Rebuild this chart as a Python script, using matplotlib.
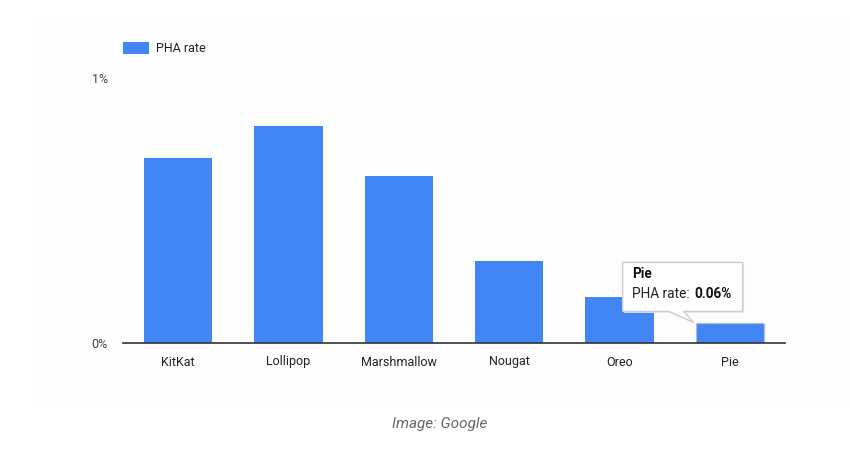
import matplotlib
matplotlib.use("Agg")
import matplotlib.pyplot as plt
from matplotlib.patches import Rectangle, Polygon
from matplotlib.transforms import Affine2D

categories = ["KitKat", "Lollipop", "Marshmallow", "Nougat", "Oreo", "Pie"]
pha_rate = [0.70, 0.82, 0.63, 0.31, 0.175, 0.074]
series_name = "PHA rate"
y_ticks = [0, 1]
y_tick_labels = ["0%", "1%"]
tooltip_title = "Pie"
tooltip_value = "0.06%"
caption = "Image: Google"

plt.rcParams["font.family"] = ["Roboto", "DejaVu Sans"]

W, H = 850, 453
fig = plt.figure(figsize=(W / 100, H / 100), dpi=100)
fig.patch.set_facecolor("white")

# faint background panel
fig.patches.append(Rectangle((32 / W, 1 - 402 / H), (W - 32) / W, (402 - 16) / H,
                             transform=fig.transFigure, facecolor="#fdfdfd",
                             edgecolor="none", zorder=-1))

ax = fig.add_axes([123 / W, 1 - 343 / H, (785 - 123) / W, (343 - 78) / H])
ax.set_zorder(1)
ax.set_facecolor("none")
x = list(range(len(categories)))
bars = ax.bar(x, pha_rate, width=0.62, color="#4285f4", label=series_name, zorder=2)
# hovered bar outline
bars[-1].set_edgecolor("#bbbbbb")
bars[-1].set_linestyle((0, (1, 1)))
bars[-1].set_linewidth(1.0)

ax.set_xlim(-0.5, len(categories) - 0.5)
ax.set_ylim(0, 1)
ax.set_xticks(x)
ax.set_xticklabels(categories, fontsize=9, color="#222222")
ax.set_yticks(y_ticks)
ax.set_yticklabels(y_tick_labels, fontsize=9, color="#444444")
ax.tick_params(axis="both", length=0)
ax.tick_params(axis="x", pad=9)
ax.tick_params(axis="y", pad=11)
for s in ["top", "right", "left"]:
    ax.spines[s].set_visible(False)
ax.spines["bottom"].set_color("#333333")
ax.spines["bottom"].set_linewidth(1.2)
ax.spines["bottom"].set_zorder(3)

leg = fig.legend(handles=[bars], labels=[series_name], loc="upper left",
                 bbox_to_anchor=(123 / W, 1 - 42 / H), frameon=False,
                 fontsize=9, handlelength=2.1, handleheight=1.1,
                 handletextpad=0.5, borderpad=0, borderaxespad=0)
for t in leg.get_texts():
    t.set_color("#222222")

# tooltip anchored at the top-left corner of the hovered bar
fig.canvas.draw()
bx = bars[-1].get_x()
by = bars[-1].get_height()
px, py = ax.transData.transform((bx, by))
px -= 2
py += 1
verts = [(-71, 11), (-25, 11), (0, 0), (-10, 11), (49, 11), (49, 60), (-71, 60)]
shadow = Polygon(verts, closed=True, facecolor="#e6e6e6", edgecolor="none",
                 transform=Affine2D().translate(px + 1.5, py - 1.5), zorder=5)
fig.patches.append(shadow)
tip = Polygon(verts, closed=True, facecolor="white", edgecolor="#cccccc",
              linewidth=1.0, transform=Affine2D().translate(px, py), zorder=6)
fig.patches.append(tip)

inv = fig.transFigure.inverted()
fx, fy = inv.transform((px - 62, py + 48))
fig.text(fx, fy, tooltip_title, fontsize=9.8, fontweight="bold", color="#111111",
         va="center", ha="left", zorder=7)
fx2, fy2 = inv.transform((px - 62, py + 28))
fig.text(fx2, fy2, series_name + ":", fontsize=9.8, color="#222222",
         va="center", ha="left", zorder=7)
fx3, _ = inv.transform((px + 1, py))
fig.text(fx3, fy2, tooltip_value, fontsize=9.8, fontweight="bold", color="#111111",
         va="center", ha="left", zorder=7)

fig.text(440 / W, 1 - 424 / H, caption, fontsize=11, style="italic",
         color="#666666", ha="center", va="center")

fig.savefig("out.png", dpi=100, facecolor="white")
